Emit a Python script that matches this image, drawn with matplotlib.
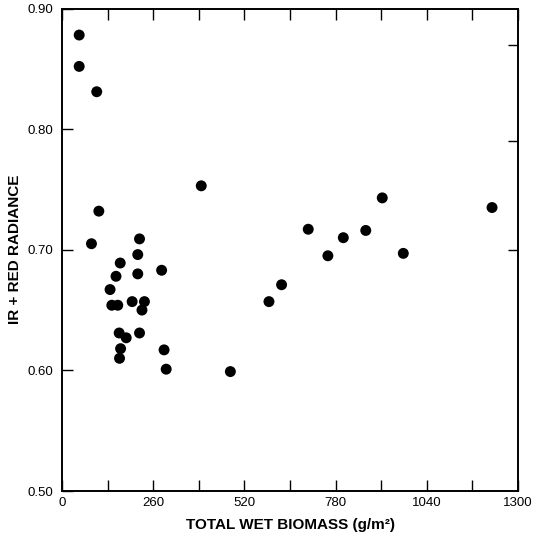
import matplotlib
matplotlib.use("Agg")
import matplotlib.pyplot as plt
from matplotlib.ticker import MultipleLocator

plt.rcParams['font.family'] = ['Liberation Sans', 'DejaVu Sans']

biomass = [49, 49, 99, 105, 84, 221, 216, 166, 154, 216, 284, 137, 142, 159,
           200, 235, 228, 163, 183, 221, 167, 164, 291, 297, 480, 590, 626,
           397, 702, 758, 802, 866, 913, 973, 1226]
radiance = [0.878, 0.852, 0.831, 0.732, 0.705, 0.709, 0.696, 0.689, 0.678,
            0.680, 0.683, 0.667, 0.654, 0.654, 0.657, 0.657, 0.650, 0.631,
            0.627, 0.631, 0.618, 0.610, 0.617, 0.601, 0.599, 0.657, 0.671,
            0.753, 0.717, 0.695, 0.710, 0.716, 0.743, 0.697, 0.735]

x_ticks = [0, 260, 520, 780, 1040, 1300]
y_ticks = [0.50, 0.60, 0.70, 0.80, 0.90]
right_ticks = [0.87, 0.79, 0.70]

fig = plt.figure(figsize=(5.37, 5.38), dpi=100)
ax = fig.add_axes([62/537, 47/538, 456/537, 482.5/538])

ax.scatter(biomass, radiance, s=62, color='black', edgecolors='none', zorder=3)

ax.set_xlim(0, 1300)
ax.set_ylim(0.50, 0.90)
ax.set_xticks(x_ticks)
ax.set_xticklabels([str(v) for v in x_ticks])
ax.xaxis.set_minor_locator(MultipleLocator(130))
ax.set_yticks(y_ticks)
ax.set_yticklabels(['%.2f' % v for v in y_ticks])

ax.tick_params(axis='x', which='both', direction='in', length=8, width=1.0,
               top=True, bottom=True, labelsize=9.5, pad=4)
ax.tick_params(axis='y', which='both', direction='in', length=8, width=1.0,
               labelsize=9.5, pad=6)

sec = ax.secondary_yaxis('right')
sec.set_yticks(right_ticks)
sec.tick_params(direction='in', length=7, width=1.0, labelright=False)
sec.spines['right'].set_visible(False)

for s in ax.spines.values():
    s.set_linewidth(1.4)

ax.set_xlabel('TOTAL WET BIOMASS (g/m²)', fontsize=11, fontweight='bold', labelpad=7)
ax.set_ylabel('IR + RED RADIANCE', fontsize=11, fontweight='bold')
ax.yaxis.set_label_coords(-0.088, 0.5)

fig.savefig('out.png', dpi=100)
